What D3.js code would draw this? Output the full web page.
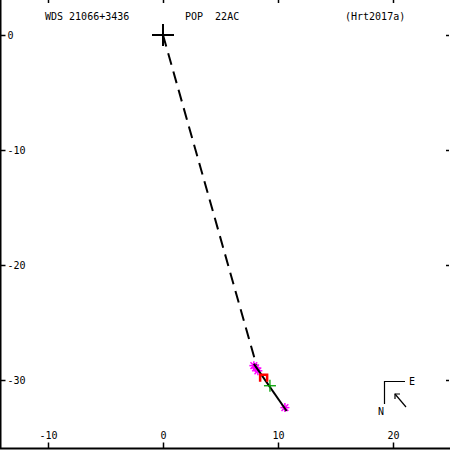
<!DOCTYPE html>
<html><head><meta charset="utf-8">
<script src="https://cdn.jsdelivr.net/npm/d3@7"></script>
<style>body{margin:0;background:#fff}svg{display:block}text{font-family:"DejaVu Sans Mono",monospace;font-size:10px}</style>
</head><body>
<script>
const titleLeft = "WDS 21066+3436";
const titleMid = "POP  22AC";
const titleRight = "(Hrt2017a)";
const xTicks = [-10, 0, 10, 20];
const yTicks = [0, -10, -20, -30];
const primary = [0, 0];
const dashedPath = [[0, 0], [8.15, -28.8]];
const solidPath = [[7.9, -28.6], [10.75, -32.7]];
const magentaPts = [[7.9, -28.75], [8.05, -28.95], [8.25, -29.2], [10.6, -32.4]];
const redPts = [[8.75, -29.8]];
const greenPts = [[9.3, -30.5]];

const W = 450, H = 450;
const svg = d3.select("body").append("svg").attr("width", W).attr("height", H);
const x = d3.scaleLinear().domain([-10, 20]).range([48, 393]);
const y = d3.scaleLinear().domain([0, -30]).range([35, 380]);

// axes
const gL = svg.append("g").attr("transform", "translate(0.5,0)")
  .call(d3.axisRight(y).tickValues(yTicks).tickSize(5).tickPadding(2).tickFormat(d => d));
const gB = svg.append("g").attr("transform", "translate(0,448.5)")
  .call(d3.axisTop(x).tickValues(xTicks).tickSize(6).tickPadding(4).tickFormat(d => d));
const gT = svg.append("g").attr("transform", "translate(0,0)")
  .call(d3.axisBottom(x).tickValues(xTicks).tickSize(3).tickFormat(""));
const gR = svg.append("g").attr("transform", "translate(449,0)")
  .call(d3.axisLeft(y).tickValues(yTicks).tickSize(3).tickFormat(""));
[gT, gR].forEach(g => g.select(".domain").remove());
[gL, gB].forEach(g => g.select(".domain").attr("d", null));
svg.append("line").attr("x1", 0.5).attr("x2", 0.5).attr("y1", 0).attr("y2", 449).attr("stroke", "#000").attr("stroke-width", 2);
svg.append("line").attr("x1", 0).attr("x2", 450).attr("y1", 448.5).attr("y2", 448.5).attr("stroke", "#000").attr("stroke-width", 2);
svg.selectAll(".tick line").attr("stroke", "#000").attr("stroke-width", 1.5);
svg.selectAll(".tick text").attr("fill", "#000").style("font-family", "'DejaVu Sans Mono',monospace").style("font-size", "10px");

// titles
svg.append("text").attr("x", 45).attr("y", 20).text(titleLeft);
svg.append("text").attr("x", 185).attr("y", 20).attr("xml:space", "preserve").style("white-space", "pre").text(titleMid);
svg.append("text").attr("x", 345).attr("y", 20).text(titleRight);

// orbit lines
const line = d3.line().x(d => x(d[0])).y(d => y(d[1]));
svg.append("path").attr("d", line(dashedPath)).attr("stroke", "#000").attr("stroke-width", 2)
  .attr("fill", "none").attr("stroke-dasharray", "12,7");

// magenta asterisks
magentaPts.forEach(p => {
  const cx = x(p[0]), cy = y(p[1]), r = 4.5;
  const g = svg.append("g").attr("stroke", "#ff00ff").attr("stroke-width", 1.5);
  g.append("line").attr("x1", cx - r).attr("x2", cx + r).attr("y1", cy).attr("y2", cy);
  g.append("line").attr("x1", cx).attr("x2", cx).attr("y1", cy - r).attr("y2", cy + r);
  g.append("line").attr("x1", cx - r * 0.75).attr("x2", cx + r * 0.75).attr("y1", cy - r * 0.75).attr("y2", cy + r * 0.75);
  g.append("line").attr("x1", cx - r * 0.75).attr("x2", cx + r * 0.75).attr("y1", cy + r * 0.75).attr("y2", cy - r * 0.75);
});

svg.append("path").attr("d", line(solidPath)).attr("stroke", "#000").attr("stroke-width", 2).attr("fill", "none");

// red marks
redPts.forEach(p => {
  const cx = x(p[0]), cy = y(p[1]);
  svg.append("path").attr("d", `M${cx - 3.5},${cy + 4}V${cy - 3}H${cx + 3.5}V${cy + 4}`)
    .attr("stroke", "#ff0000").attr("stroke-width", 2.5).attr("fill", "none");
});

// green crosses
greenPts.forEach(p => {
  const cx = x(p[0]), cy = y(p[1]), r = 6;
  const g = svg.append("g").attr("stroke", "#00a000").attr("stroke-width", 1.3);
  g.append("line").attr("x1", cx - r).attr("x2", cx + r).attr("y1", cy).attr("y2", cy);
  g.append("line").attr("x1", cx).attr("x2", cx).attr("y1", cy - r).attr("y2", cy + r);
});

// primary cross
{
  const cx = x(primary[0]), cy = y(primary[1]), r = 11;
  const g = svg.append("g").attr("stroke", "#000").attr("stroke-width", 2);
  g.append("line").attr("x1", cx - r).attr("x2", cx + r).attr("y1", cy).attr("y2", cy);
  g.append("line").attr("x1", cx).attr("x2", cx).attr("y1", cy - r).attr("y2", cy + r);
}

// compass
const c = svg.append("g").attr("stroke", "#000").attr("stroke-width", 1.2).attr("fill", "none");
c.append("path").attr("d", "M384.5,404V381.5H405");
svg.append("text").attr("x", 409).attr("y", 385).text("E");
svg.append("text").attr("x", 378).attr("y", 415).text("N");
c.append("path").attr("d", "M406,407L395,394");
c.append("path").attr("d", "M395,399V394H400");
</script>
</body></html>
